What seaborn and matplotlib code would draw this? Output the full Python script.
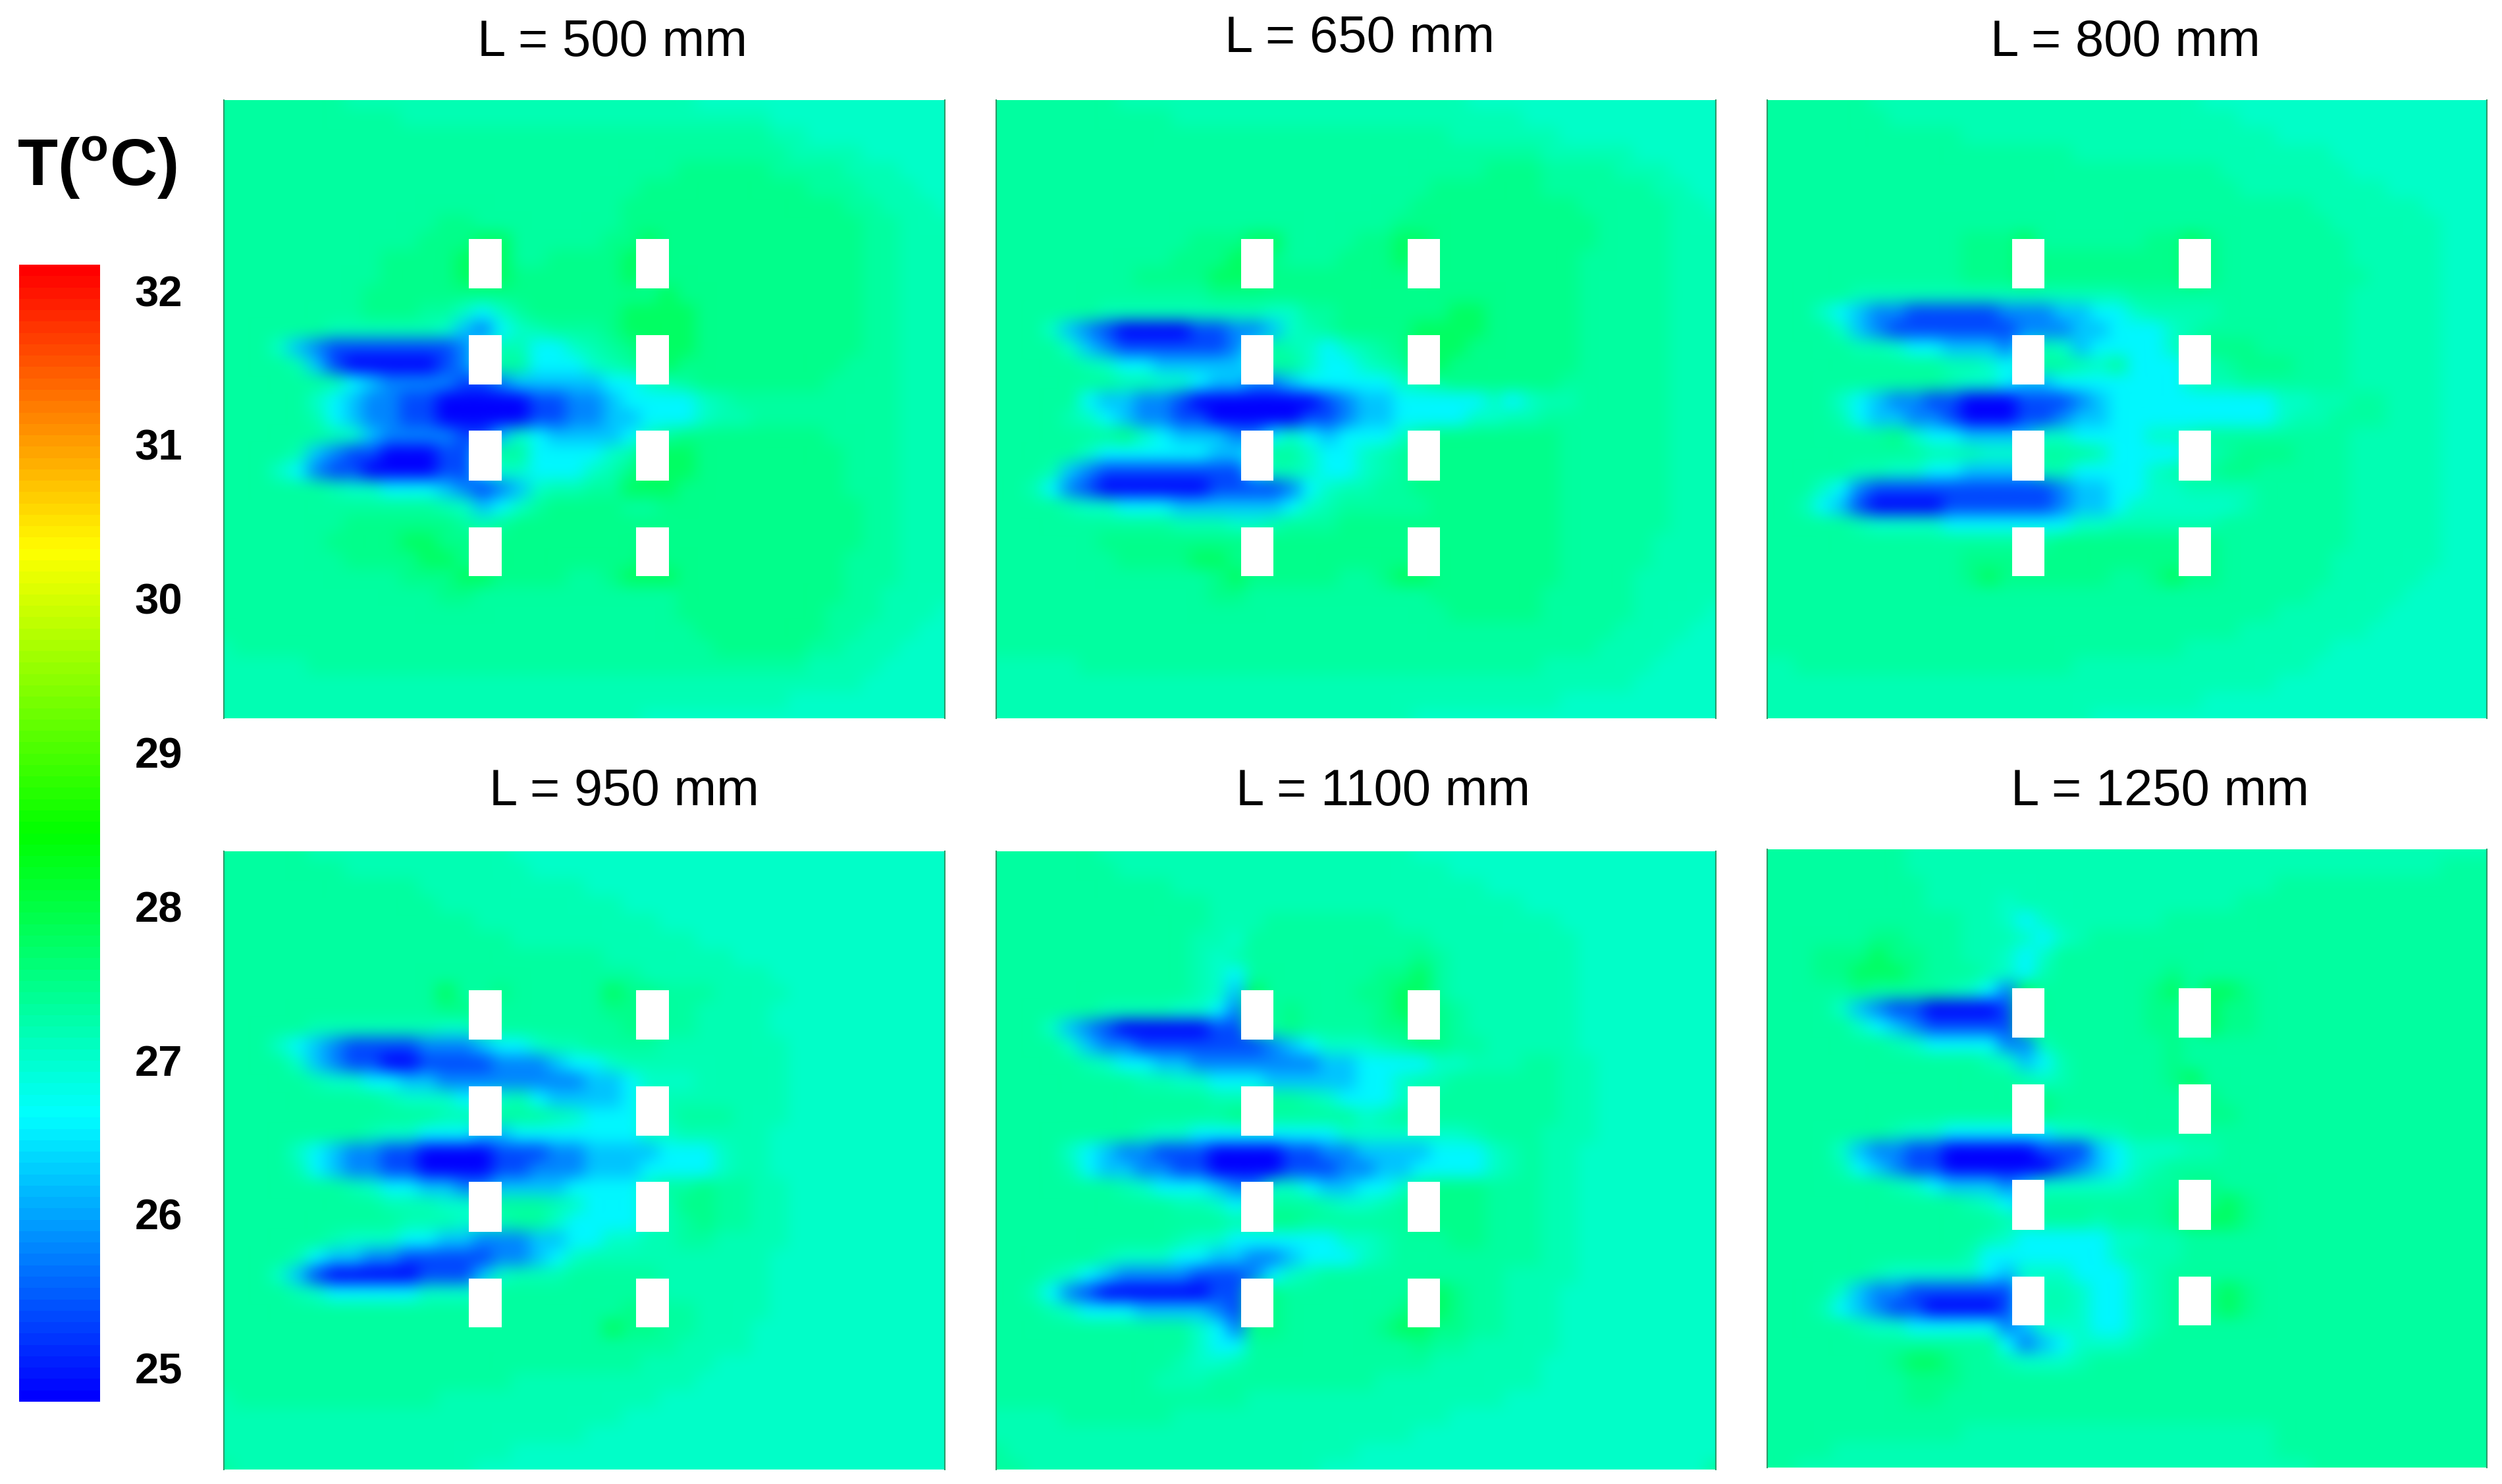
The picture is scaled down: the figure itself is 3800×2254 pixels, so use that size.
import numpy as np
import matplotlib
matplotlib.use('Agg')
import matplotlib.pyplot as plt
from matplotlib.colors import LinearSegmentedColormap
from matplotlib.patches import Rectangle
import seaborn as sns

W, H = 3800, 2254

# each digit is a colour level, see T_LEVELS
T_LEVELS = [24.85, 25.3, 25.8, 26.2, 26.62, 27.0, 27.15, 27.3, 27.5, 27.75]
T_TICKS = [25, 26, 27, 28, 29, 30, 31, 32]
T_MIN, T_MAX = 24.78, 32.17
CBAR_COLORS = ['#0000ff', '#00ffff', '#00ff00', '#ffff00', '#ff0000']

TITLES = ['L = 500 mm', 'L = 650 mm', 'L = 800 mm',
          'L = 950 mm', 'L = 1100 mm', 'L = 1250 mm']
TITLE_X = [930, 2065, 3228, 948, 2101, 3280]
TITLE_Y = [65, 58, 65, 1202, 1202, 1202]
PANEL_LEFT = [340, 1513, 2684, 340, 1513, 2684]
PANEL_RIGHT = [1435, 2606, 3777, 1435, 2606, 3777]
PANEL_TOP = [152, 152, 152, 1293, 1293, 1290]
PANEL_BOTTOM = [1091, 1091, 1091, 2232, 2232, 2229]

BAFFLE_X = [(0.340, 0.385), (0.572, 0.617)]
BAFFLE_Y = [(0.225, 0.305), (0.380, 0.460), (0.535, 0.616), (0.691, 0.770)]

L500 = [
    '7777777666 6666666666 6666665555 5555555555',
    '7777777777 6666666666 6666666666 5555555555',
    '7777777777 7777777777 7777777777 6655555555',
    '7777777777 7777777777 7777777777 7666655555',
    '7777777777 7777777777 7777788888 7777666555',
    '7777777777 7777777777 7778888888 8877766655',
    '7777777777 7777777777 7788888888 8888776665',
    '7777777777 7788777777 7788888888 8888877666',
    '7777777777 7888997777 7889888888 8888877666',
    '7777777778 8889997788 8899888888 8888877666',
    '7777777778 8889998888 8898888888 8888877666',
    '7777777788 8888888888 8888988888 8888877666',
    '7777777788 8775457888 8899998888 8888877666',
    '7777776666 6653245677 7899998888 8888877666',
    '7775321111 1112466445 6789998888 8888877666',
    '7777631000 0012477444 5678988888 8888777666',
    '7777776432 2221123333 3445678888 8887777666',
    '7777754322 1100000112 2344445677 7777777666',
    '7777764322 1100000112 2334445667 7777777666',
    '7777776532 2221135433 3345788888 8887777666',
    '7777632110 0011477444 4569998888 8888777666',
    '7775421100 0011455444 5689998888 8888777666',
    '7777776554 4432123566 7799988888 8888777666',
    '7777777777 7765345788 8877888888 8888877666',
    '7777777888 8887678888 8888888888 8888877666',
    '7777778888 9988888888 8888888888 8888877666',
    '7777777888 8998888888 8889888888 8888777666',
    '7777777777 8889988887 7899988888 8888777666',
    '7777777777 7788777777 7777788888 8888776666',
    '7777777777 7777777777 7777788888 8887776665',
    '7777777777 7777777777 7777778888 8887766655',
    '6777777777 7777777777 7777777888 8877666555',
    '6666677777 7777777777 7777777777 7766665555',
    '6666666666 6666666666 6666666666 6666655555',
    '6666666666 6666666666 6666666666 6555555555',
    '6666666666 6666666666 6665555555 5555555555',
]

L650 = [
    '7777777666 6666666666 6666665555 5555555555',
    '7777777777 6666666666 6666666665 5555555555',
    '7777777777 7777777777 7777766666 6555555555',
    '7777777777 7777777777 7777777777 6666655555',
    '7777777777 7777777777 7777777888 7777666555',
    '7777777777 7777777777 7777888888 7777776655',
    '7777777777 7777777777 7778888888 8877777665',
    '7777777777 7777777777 7788888888 8887777666',
    '7777777777 7888997777 8899888888 8887777666',
    '7777777777 8889987778 8898888888 8877777666',
    '7777777788 8899988888 8888888888 8877777666',
    '7777777777 7788888888 8888888888 8877777666',
    '7777776666 6666655778 8888899888 8877777666',
    '7775321000 0112235678 8889999888 8877777666',
    '7777532111 1112476545 6789998888 8877777666',
    '7777765443 3333477544 5679988888 8877777666',
    '7777777665 5433223444 4456788888 8777777666',
    '7777743322 1000000012 3344444545 6677777666',
    '7777654322 1100000112 3344445566 7777777666',
    '7777777854 3332245434 4457888888 8777777666',
    '7777754444 4433477544 5678888888 8777777666',
    '7776321111 1111466544 5678888888 8777777666',
    '7764210000 0011112456 6778888888 8777777666',
    '7777655444 3333334567 7777888888 8777777666',
    '7777777777 6665567778 8888888888 8777777666',
    '7777778888 8888888888 8888888888 8777776666',
    '7777777888 8998888888 8888888888 8777776666',
    '7777777777 7789888887 7899888888 8777766666',
    '7777777777 7788777777 7777888888 7777766666',
    '7777777777 7777777777 7777788888 7777766665',
    '7777777777 7777777777 7777777777 7777666655',
    '7777777777 7777777777 7777777777 7776666555',
    '6666677777 7777777777 7777777777 6666665555',
    '6666666666 6666666666 6666666666 6666655555',
    '6666666666 6666666666 6666666666 6555555555',
    '6666666666 6666666666 6665555555 5555555555',
]

L800 = [
    '7777776666 6666666666 6666555555 5555555555',
    '7777777666 6666666666 6666665555 5555555555',
    '7777777777 7666666666 6666666655 5555555555',
    '7777777777 7777777666 6666666666 6555555555',
    '7777777777 7777777777 7777766666 6655555555',
    '7777777777 7777777777 7777776666 6666555555',
    '7777777777 7777777777 7777777777 6666665555',
    '7777777777 7777777777 7777777777 7666666555',
    '7777777777 7888977777 7889877777 7766666555',
    '7777777777 7888988888 8889877777 7766666555',
    '7777777777 7888988888 8889877777 7776666555',
    '7777766666 6666666666 7777777777 7766666555',
    '7775432211 1112223344 5666677777 7766666555',
    '7777532111 1111222334 4456777777 7766666555',
    '7777766544 3332465344 4457888777 7766666555',
    '7777777777 6654577657 4445678887 7766666555',
    '7777777777 6554334444 4445667777 7766666555',
    '7777543221 1000111234 4444444455 6677666555',
    '7777643322 1000112334 4444444456 6777666555',
    '7777777854 4333355444 4556777777 7766666555',
    '7777777776 6655577764 4445678887 7766666555',
    '7777766554 4333366444 4567788777 7766666555',
    '7775421111 1111112334 4556666777 7766666555',
    '7764310000 1111112334 5555556777 7766666555',
    '7777765555 4444444556 6666677777 7766666555',
    '7777777777 7777778888 8888877777 7766666555',
    '7777777777 7888888888 8888877777 7666666555',
    '7777777777 7898888887 7898877777 7666665555',
    '7777777777 7777777777 7777777777 6666655555',
    '7777777777 7777777777 7777777766 6666555555',
    '7777777777 7777777777 7777776666 6665555555',
    '7777777777 7777777777 7776666666 6555555555',
    '6677777777 7777777666 6666666666 5555555555',
    '6666666666 6666666666 6666666655 5555555555',
    '6666666666 6666666666 6666555555 5555555555',
    '6666666666 6666666655 5555555555 5555555555',
]

L950 = [
    '7777766666 6666665555 5555555555 5555555555',
    '7777777666 6666666555 5555555555 5555555555',
    '7777777777 7666666666 5555555555 5555555555',
    '7777777777 7766666666 6655555555 5555555555',
    '7777777777 7777666666 6666555555 5555555555',
    '7777777777 7777776666 6666665555 5555555555',
    '7777777777 7777777777 7666666655 5555555555',
    '7777777777 7777777777 7776666666 5555555555',
    '7777777777 7797787777 7988777666 6555555555',
    '7777777777 7788777777 7888776666 5555555555',
    '7777766666 6655777777 7788776666 5555555555',
    '7775432111 1222344566 7777666666 6555555555',
    '7777532110 0111122234 4566666666 6555555555',
    '7777765544 3322222222 3345556666 6555555555',
    '7777777776 5554456433 3345666666 6555555555',
    '7777777777 7766677765 4445677766 6555555555',
    '7777777765 5444334444 4445566666 5555555555',
    '7777543221 1000011122 3333444566 5555555555',
    '7777643221 1000011222 3334444566 5555555555',
    '7777777654 4332233334 4445778776 6555555555',
    '7777777776 6655577765 4445688776 6555555555',
    '7777777777 6665567754 4445678776 6555555555',
    '7777776555 4433222334 4556677666 6555555555',
    '7777643322 1111122345 6666666666 5555555555',
    '7775310000 0111356667 7777666666 5555555555',
    '7777654444 4555577777 7777666666 5555555555',
    '7777777777 7777777777 7788776666 5555555555',
    '7777777777 7777777777 7988776665 5555555555',
    '7777777777 7777777777 7777766665 5555555555',
    '7777777777 7777777777 7776666555 5555555555',
    '7777777777 7777776666 6666665555 5555555555',
    '6777777777 7766666666 6666555555 5555555555',
    '6666666666 6666666666 6655555555 5555555555',
    '6666666666 6666666666 5555555555 5555555555',
    '6666666666 6666665555 5555555555 5555555555',
    '7666666666 6666555555 5555555555 5555555555',
]

L1100 = [
    '7777776666 6666666666 6665555555 5555555555',
    '7777777666 6666666666 6666655555 5555555555',
    '7777777777 6666666666 6666666555 5555555555',
    '7777777777 7766666666 6666666665 5555555555',
    '7777777777 7766677777 7766666666 6555555555',
    '7777777777 7665777777 7777666666 6655555555',
    '7777777777 7656777777 7778766666 6655555555',
    '7777777777 7654777777 7889766666 6655555555',
    '7777777777 7653977777 8899766666 6655555555',
    '7777776666 5542978777 7899876666 6655555555',
    '7775321000 0011778777 7889876666 6655555555',
    '7777532211 1111123455 5678877666 6655555555',
    '7777765443 3222222233 4444556667 7665555555',
    '7777777766 5544433333 4456677777 7665555555',
    '7777777777 7766677654 4456777777 7665555555',
    '7777777777 7778877777 5677777777 7665555555',
    '7777777765 5444444445 5555556777 6665555555',
    '7777543221 1100001122 3333444567 6655555555',
    '7777643322 1100001112 2334444567 6655555555',
    '7777777654 4432255433 4457888777 6655555555',
    '7777777777 6654577765 5678888777 6655555555',
    '7777777777 7776788777 7778888777 6655555555',
    '7777777777 6554444445 5677788777 6655555555',
    '7777776555 4433223444 5677777777 6655555555',
    '7776543222 2111245677 7777777766 6655555555',
    '7764210000 0011887777 7778987766 6555555555',
    '7776544433 3321887777 7789987766 6555555555',
    '7777777777 7542887777 7899887766 6555555555',
    '7777777777 7544777777 7778776666 6555555555',
    '7777777777 6556777777 7777666666 5555555555',
    '7777777776 6677777777 7666666666 5555555555',
    '7777777777 7777666666 6666666655 5555555555',
    '6666777777 6666666666 6666655555 5555555555',
    '6666666666 6666666666 6665555555 5555555555',
    '7666666666 6666666666 5555555555 5555555555',
    '7766666666 6666666655 5555555555 5555555557',
]

L1250 = [
    '7777777766 6666666666 6666666666 6666666666',
    '7777777766 6666666666 6666666666 6666666777',
    '7777777776 6666666666 6666666677 7777777777',
    '7777777776 6665666666 6666667777 7777777777',
    '7777777777 7665456666 6677777777 7777777777',
    '7777778877 7666545677 7777777777 7777777777',
    '7778889887 7665457777 7777777777 7777777777',
    '7778899987 7765467777 7787777777 7777777777',
    '7777787777 6542977777 7897998777 7777777777',
    '7777532110 0001977777 7887988777 7777777777',
    '7777754321 1111977777 7887988777 7777777777',
    '7777777654 4442267777 7787777777 7777777777',
    '7777777777 7765346777 7787777777 7777777777',
    '7777777777 7777656777 7789777777 7777777777',
    '7777777777 7777787777 7777877777 7777777777',
    '7777777777 7777787777 7777887777 7777777777',
    '7777777655 4444445566 7777777777 7777777777',
    '7777532211 0000011134 5556677777 7777777777',
    '7777643211 0000001234 5677777777 7777777777',
    '7777777654 3332355555 6778877777 7777777777',
    '7777777777 7654377777 7788898777 7777777777',
    '7777777777 7776677767 7789998777 7777777777',
    '7777777777 7765444445 5667777777 7777777777',
    '7777777777 7644444445 6667777777 7777777777',
    '7777776555 5543555444 5677777777 7777777777',
    '7777532211 1111466544 5678898777 7777777777',
    '7776432110 0001466544 5678898777 7777777777',
    '7777765544 4442355544 5677777777 7777777777',
    '7777777777 7774234555 6777777777 7777777777',
    '7777777899 8776555677 7777777777 7777777777',
    '7777777788 8777777777 7777777777 7777777777',
    '7777777788 7777777777 7777777777 7777777777',
    '7777777777 7777777777 7777777777 7777777777',
    '7777777777 7666666666 6666666677 7777777777',
    '7777666666 6666666666 6666666677 7777777777',
    '7766666666 6666666666 6666666666 7777777777',
]

PANELS = [L500, L650, L800, L950, L1100, L1250]


def decode(rows):
    levels = np.array(T_LEVELS)
    return np.array([[levels[int(c)] for c in r.replace(' ', '')] for r in rows])


def px_axes(fig, left, top, right, bottom):
    return fig.add_axes([left / W, 1 - bottom / H, (right - left) / W, (bottom - top) / H])


def soften(image, dpi):
    # the reference is a blurry raster, so the mesh gets a small box blur when drawn
    out = image.copy()
    r = 9
    kernel = np.ones(2 * r + 1) / (2 * r + 1)
    for _ in range(2):
        for axis in (0, 1):
            pad = [(r, r) if a == axis else (0, 0) for a in range(3)]
            padded = np.pad(out, pad, mode='edge')
            out = np.apply_along_axis(np.convolve, axis, padded, kernel, mode='valid')
    return out, 0, 0


if __name__ == '__main__':
    sns.set_style('white')
    plt.rcParams['font.family'] = ['Liberation Sans', 'DejaVu Sans']
    plt.rcParams['mathtext.fontset'] = 'custom'
    plt.rcParams['mathtext.bf'] = 'Liberation Sans:bold'

    cmap = LinearSegmentedColormap.from_list('fluent', CBAR_COLORS, N=100)
    fig = plt.figure(figsize=(W / 100, H / 100), dpi=100, facecolor='white')
    cax = px_axes(fig, 29, 402, 152, 2129)

    for i, rows in enumerate(PANELS):
        ax = px_axes(fig, PANEL_LEFT[i], PANEL_TOP[i], PANEL_RIGHT[i], PANEL_BOTTOM[i])
        field = decode(rows)
        ny, nx = field.shape
        sns.heatmap(field, ax=ax, cmap=cmap, vmin=T_MIN, vmax=T_MAX,
                    xticklabels=False, yticklabels=False, shading='gouraud',
                    cbar=i == 0, cbar_ax=cax if i == 0 else None,
                    cbar_kws={'ticks': T_TICKS} if i == 0 else None)
        ax.set_xlim(0, nx - 1)
        ax.set_ylim(ny - 1, 0)
        ax.collections[0].set_agg_filter(soften)
        for x0, x1 in BAFFLE_X:
            for y0, y1 in BAFFLE_Y:
                ax.add_patch(Rectangle((x0 * (nx - 1), y0 * (ny - 1)),
                                       (x1 - x0) * (nx - 1), (y1 - y0) * (ny - 1),
                                       facecolor='white', edgecolor='none', zorder=3))
        for s in ['left', 'right']:
            ax.spines[s].set_visible(True)
            ax.spines[s].set_color('#2f9a6a')
            ax.spines[s].set_linewidth(1.5)
        fig.text(TITLE_X[i] / W, 1 - TITLE_Y[i] / H, TITLES[i], fontsize=56,
                 ha='center', va='center', color='black')

    cax.tick_params(axis='y', right=True, length=0, pad=38, labelsize=47, labelcolor='black')
    for lab in cax.get_yticklabels():
        lab.set_fontweight('bold')

    fig.text(26 / W, 1 - 255 / H, r'$\mathbf{T(^{o}C)}$', fontsize=72,
             ha='left', va='center', color='black')

    fig.savefig('out.png', dpi=100)
